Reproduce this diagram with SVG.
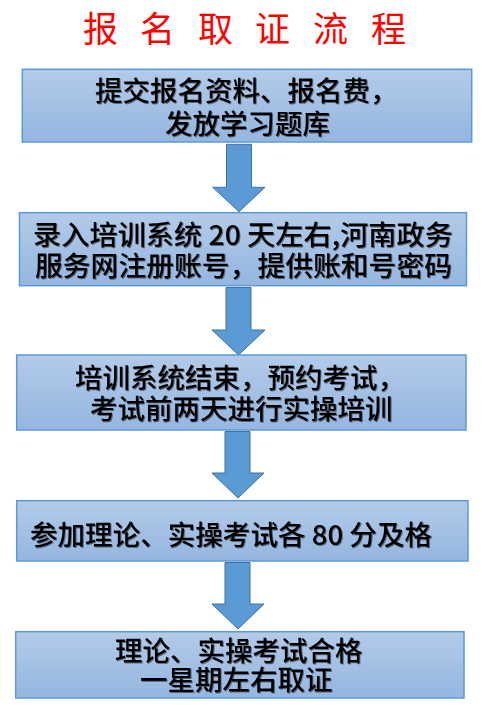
<svg xmlns="http://www.w3.org/2000/svg" width="483" height="705" viewBox="0 0 483 705">
<defs>
<linearGradient id="g" x1="0" y1="0" x2="0" y2="1">
<stop offset="0" stop-color="#b3cbe9"/>
<stop offset="1" stop-color="#94b6e0"/>
</linearGradient>
<filter id="sh" x="-5%" y="-20%" width="110%" height="140%">
<feDropShadow dx="1" dy="1" stdDeviation="0.4" flood-color="#000" flood-opacity="0.45"/>
</filter>
</defs>
<style>
.box{fill:url(#g);stroke:#5b9bd5;stroke-width:1.5}
.arr{fill:#5b9bd5;stroke:#41719c;stroke-width:1}
.t{font-family:"Noto Sans CJK SC","Noto Sans",sans-serif;font-size:27.5px;fill:#000;font-weight:500;filter:url(#sh)}
.title{font-family:"Noto Sans CJK SC","Noto Sans",sans-serif;font-size:35px;fill:#ff0000}
</style>
<rect width="483" height="705" fill="#fff"/>
<text class="title" x="83 140 198 255 313 371" y="42">报名取证流程</text>
<g id="connectors">
<path class="arr" d="M226.5 144.3H251.5V187.3H265L239 211.7L212.7 187.3H226.5Z"/>
<path class="arr" d="M226 287.5H251V330H265L238.5 355L212 330H226Z"/>
<path class="arr" d="M225 431.5H250V473H264L238 498L212 473H225Z"/>
<path class="arr" d="M225 562.5H250V604H264L238 629L212 604H225Z"/>
</g>
<g id="n1">
<rect class="box" x="22.3" y="69.3" width="449.4" height="72.7"/>
<text class="t" x="95" y="101">提交报名资料、报名费，</text>
<text class="t" x="165" y="134">发放学习题库</text>
</g>
<g id="n2">
<rect class="box" x="19.5" y="212.7" width="447" height="73"/>
<text class="t" x="33" y="244.5" textLength="420" lengthAdjust="spacingAndGlyphs">录入培训系统 20 天左右,河南政务</text>
<text class="t" x="35" y="275.5" textLength="417" lengthAdjust="spacingAndGlyphs">服务网注册账号，提供账和号密码</text>
</g>
<g id="n3">
<rect class="box" x="16.7" y="355" width="449.3" height="75"/>
<text class="t" x="75" y="388">培训系统结束，预约考试，</text>
<text class="t" x="90" y="419">考试前两天进行实操培训</text>
</g>
<g id="n4">
<rect class="box" x="16.7" y="500.7" width="451.3" height="60.3"/>
<text class="t" x="30" y="544.5" textLength="402" lengthAdjust="spacingAndGlyphs">参加理论、实操考试各 80 分及格</text>
</g>
<g id="n5">
<rect class="box" x="15.7" y="631.7" width="448.3" height="66.3"/>
<text class="t" x="115" y="660.5">理论、实操考试合格</text>
<text class="t" x="140" y="689.5">一星期左右取证</text>
</g>
</svg>
